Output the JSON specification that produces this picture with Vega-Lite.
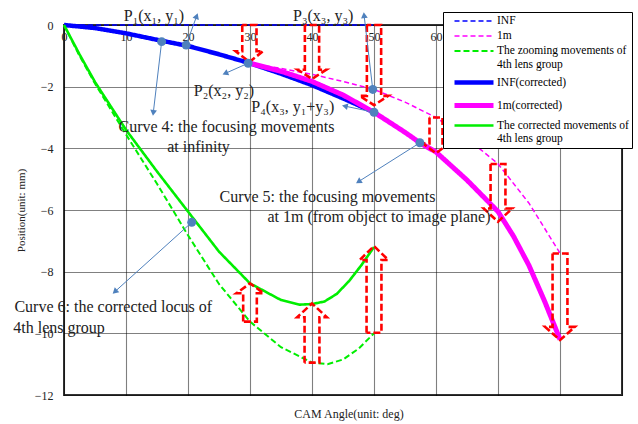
{
  "$schema": "https://vega.github.io/schema/vega-lite/v6.json",
  "width": 558,
  "height": 370,
  "autosize": {"type": "none"},
  "padding": {"left": 64, "top": 25, "right": 16, "bottom": 29},
  "background": "white",
  "config": {
    "view": {"stroke": "#333", "strokeWidth": 2},
    "font": "Liberation Serif",
    "axis": {"labelFont": "Liberation Serif", "titleFont": "Liberation Serif", "labelColor": "#222", "titleColor": "#222", "grid": true, "gridColor": "#000", "gridDash": [1, 1], "gridOpacity": 1, "gridWidth": 1.1, "domain": false, "ticks": false}
  },
  "title": {"text": "CAM Angle(unit: deg)", "orient": "bottom", "offset": 8, "fontSize": 12, "font": "Liberation Serif", "fontWeight": "normal", "color": "#222", "anchor": "middle", "dx": 6},
  "datasets": {
    "curves": [
      {"s": "INF", "x": 0, "y": 0}, {"s": "INF", "x": 50, "y": 0},
      {"s": "1m", "x": 30, "y": -1.24}, {"s": "1m", "x": 35, "y": -1.41}, {"s": "1m", "x": 40, "y": -1.6}, {"s": "1m", "x": 45, "y": -1.83}, {"s": "1m", "x": 50, "y": -2.09}, {"s": "1m", "x": 55, "y": -2.5}, {"s": "1m", "x": 60, "y": -3.0}, {"s": "1m", "x": 65, "y": -3.68}, {"s": "1m", "x": 70, "y": -4.5}, {"s": "1m", "x": 75, "y": -5.78}, {"s": "1m", "x": 80, "y": -7.4},
      {"s": "The zooming movements of 4th lens group", "x": 0, "y": 0}, {"s": "The zooming movements of 4th lens group", "x": 2.5, "y": -1.0}, {"s": "The zooming movements of 4th lens group", "x": 5, "y": -1.9}, {"s": "The zooming movements of 4th lens group", "x": 10, "y": -3.55}, {"s": "The zooming movements of 4th lens group", "x": 15, "y": -5.15}, {"s": "The zooming movements of 4th lens group", "x": 20, "y": -6.82}, {"s": "The zooming movements of 4th lens group", "x": 25, "y": -8.4}, {"s": "The zooming movements of 4th lens group", "x": 30, "y": -9.62}, {"s": "The zooming movements of 4th lens group", "x": 35, "y": -10.45}, {"s": "The zooming movements of 4th lens group", "x": 40, "y": -10.95}, {"s": "The zooming movements of 4th lens group", "x": 42.5, "y": -11.0}, {"s": "The zooming movements of 4th lens group", "x": 45, "y": -10.85}, {"s": "The zooming movements of 4th lens group", "x": 47.5, "y": -10.5}, {"s": "The zooming movements of 4th lens group", "x": 50, "y": -10.0},
      {"s": "INF(corrected)", "x": 0, "y": 0}, {"s": "INF(corrected)", "x": 5, "y": -0.1}, {"s": "INF(corrected)", "x": 10, "y": -0.27}, {"s": "INF(corrected)", "x": 15, "y": -0.48}, {"s": "INF(corrected)", "x": 20, "y": -0.68}, {"s": "INF(corrected)", "x": 25, "y": -0.95}, {"s": "INF(corrected)", "x": 30, "y": -1.24}, {"s": "INF(corrected)", "x": 35, "y": -1.58}, {"s": "INF(corrected)", "x": 40, "y": -1.95}, {"s": "INF(corrected)", "x": 45, "y": -2.38}, {"s": "INF(corrected)", "x": 50, "y": -2.83},
      {"s": "1m(corrected)", "x": 30, "y": -1.24}, {"s": "1m(corrected)", "x": 35, "y": -1.5}, {"s": "1m(corrected)", "x": 40, "y": -1.83}, {"s": "1m(corrected)", "x": 45, "y": -2.27}, {"s": "1m(corrected)", "x": 50, "y": -2.83}, {"s": "1m(corrected)", "x": 55, "y": -3.48}, {"s": "1m(corrected)", "x": 57.4, "y": -3.82}, {"s": "1m(corrected)", "x": 60, "y": -4.12}, {"s": "1m(corrected)", "x": 65, "y": -5.03}, {"s": "1m(corrected)", "x": 70, "y": -6.05}, {"s": "1m(corrected)", "x": 72.5, "y": -6.85}, {"s": "1m(corrected)", "x": 75, "y": -7.8}, {"s": "1m(corrected)", "x": 77.5, "y": -8.95}, {"s": "1m(corrected)", "x": 80, "y": -10.2},
      {"s": "The corrected movements of 4th lens group", "x": 0, "y": 0}, {"s": "The corrected movements of 4th lens group", "x": 2.5, "y": -0.95}, {"s": "The corrected movements of 4th lens group", "x": 5, "y": -1.85}, {"s": "The corrected movements of 4th lens group", "x": 10, "y": -3.4}, {"s": "The corrected movements of 4th lens group", "x": 15, "y": -4.75}, {"s": "The corrected movements of 4th lens group", "x": 20, "y": -6.05}, {"s": "The corrected movements of 4th lens group", "x": 25, "y": -7.35}, {"s": "The corrected movements of 4th lens group", "x": 30, "y": -8.38}, {"s": "The corrected movements of 4th lens group", "x": 35, "y": -8.92}, {"s": "The corrected movements of 4th lens group", "x": 38, "y": -9.07}, {"s": "The corrected movements of 4th lens group", "x": 40, "y": -9.05}, {"s": "The corrected movements of 4th lens group", "x": 42, "y": -8.97}, {"s": "The corrected movements of 4th lens group", "x": 44, "y": -8.72}, {"s": "The corrected movements of 4th lens group", "x": 46, "y": -8.3}, {"s": "The corrected movements of 4th lens group", "x": 48, "y": -7.78}, {"s": "The corrected movements of 4th lens group", "x": 50, "y": -7.2}
    ],
    "arrows": [
      {"a": "A30", "i": 0, "x": 28.75, "y": 0}, {"a": "A30", "i": 1, "x": 28.75, "y": -0.85}, {"a": "A30", "i": 2, "x": 27.7, "y": -0.85}, {"a": "A30", "i": 3, "x": 29.9, "y": -1.2}, {"a": "A30", "i": 4, "x": 32.1, "y": -0.85}, {"a": "A30", "i": 5, "x": 31.05, "y": -0.85}, {"a": "A30", "i": 6, "x": 31.05, "y": 0}, {"a": "A30", "i": 7, "x": 28.75, "y": 0},
      {"a": "A40", "i": 0, "x": 38.85, "y": 0}, {"a": "A40", "i": 1, "x": 38.85, "y": -1.45}, {"a": "A40", "i": 2, "x": 37.7, "y": -1.45}, {"a": "A40", "i": 3, "x": 40, "y": -1.75}, {"a": "A40", "i": 4, "x": 42.3, "y": -1.45}, {"a": "A40", "i": 5, "x": 41.15, "y": -1.45}, {"a": "A40", "i": 6, "x": 41.15, "y": 0}, {"a": "A40", "i": 7, "x": 38.85, "y": 0},
      {"a": "A50", "i": 0, "x": 48.85, "y": 0}, {"a": "A50", "i": 1, "x": 48.85, "y": -2.3}, {"a": "A50", "i": 2, "x": 47.7, "y": -2.3}, {"a": "A50", "i": 3, "x": 50, "y": -2.6}, {"a": "A50", "i": 4, "x": 52.3, "y": -2.3}, {"a": "A50", "i": 5, "x": 51.15, "y": -2.3}, {"a": "A50", "i": 6, "x": 51.15, "y": 0}, {"a": "A50", "i": 7, "x": 48.85, "y": 0},
      {"a": "A60", "i": 0, "x": 58.95, "y": -3.0}, {"a": "A60", "i": 1, "x": 58.95, "y": -3.84}, {"a": "A60", "i": 2, "x": 57.9, "y": -3.84}, {"a": "A60", "i": 3, "x": 60, "y": -4.16}, {"a": "A60", "i": 4, "x": 62.1, "y": -3.84}, {"a": "A60", "i": 5, "x": 61.05, "y": -3.84}, {"a": "A60", "i": 6, "x": 61.05, "y": -3.0}, {"a": "A60", "i": 7, "x": 58.95, "y": -3.0},
      {"a": "A70", "i": 0, "x": 68.8, "y": -4.51}, {"a": "A70", "i": 1, "x": 68.8, "y": -5.95}, {"a": "A70", "i": 2, "x": 67.7, "y": -5.95}, {"a": "A70", "i": 3, "x": 70, "y": -6.38}, {"a": "A70", "i": 4, "x": 72.3, "y": -5.95}, {"a": "A70", "i": 5, "x": 71.2, "y": -5.95}, {"a": "A70", "i": 6, "x": 71.2, "y": -4.51}, {"a": "A70", "i": 7, "x": 68.8, "y": -4.51},
      {"a": "A80", "i": 0, "x": 78.8, "y": -7.41}, {"a": "A80", "i": 1, "x": 78.8, "y": -9.79}, {"a": "A80", "i": 2, "x": 77.6, "y": -9.79}, {"a": "A80", "i": 3, "x": 80, "y": -10.22}, {"a": "A80", "i": 4, "x": 82.4, "y": -9.79}, {"a": "A80", "i": 5, "x": 81.2, "y": -9.79}, {"a": "A80", "i": 6, "x": 81.2, "y": -7.41}, {"a": "A80", "i": 7, "x": 78.8, "y": -7.41},
      {"a": "U30", "i": 0, "x": 28.9, "y": -9.62}, {"a": "U30", "i": 1, "x": 28.9, "y": -8.7}, {"a": "U30", "i": 2, "x": 27.8, "y": -8.7}, {"a": "U30", "i": 3, "x": 30, "y": -8.38}, {"a": "U30", "i": 4, "x": 32.2, "y": -8.7}, {"a": "U30", "i": 5, "x": 31.1, "y": -8.7}, {"a": "U30", "i": 6, "x": 31.1, "y": -9.62}, {"a": "U30", "i": 7, "x": 28.9, "y": -9.62},
      {"a": "U40", "i": 0, "x": 38.8, "y": -10.95}, {"a": "U40", "i": 1, "x": 38.8, "y": -9.48}, {"a": "U40", "i": 2, "x": 37.6, "y": -9.48}, {"a": "U40", "i": 3, "x": 40, "y": -9.03}, {"a": "U40", "i": 4, "x": 42.4, "y": -9.48}, {"a": "U40", "i": 5, "x": 41.2, "y": -9.48}, {"a": "U40", "i": 6, "x": 41.2, "y": -10.95}, {"a": "U40", "i": 7, "x": 38.8, "y": -10.95},
      {"a": "U50", "i": 0, "x": 48.8, "y": -9.98}, {"a": "U50", "i": 1, "x": 48.8, "y": -7.62}, {"a": "U50", "i": 2, "x": 47.7, "y": -7.62}, {"a": "U50", "i": 3, "x": 50, "y": -7.17}, {"a": "U50", "i": 4, "x": 52.3, "y": -7.62}, {"a": "U50", "i": 5, "x": 51.2, "y": -7.62}, {"a": "U50", "i": 6, "x": 51.2, "y": -9.98}, {"a": "U50", "i": 7, "x": 48.8, "y": -9.98}
    ],
    "pointers": [
      {"x": 15.75, "y": -0.54, "x2": 14.4, "y2": -2.85},
      {"x": 19.7, "y": -0.65, "x2": 21.4, "y2": 0.29},
      {"x": 29.7, "y": -1.24, "x2": 26.0, "y2": -1.57},
      {"x": 49.8, "y": -2.09, "x2": 48.4, "y2": 0.32},
      {"x": 50, "y": -2.83, "x2": 45.3, "y2": -2.63},
      {"x": 57.4, "y": -3.82, "x2": 47.5, "y2": -5.08},
      {"x": 20.6, "y": -6.4, "x2": 8.2, "y2": -8.65}
    ],
    "labels": [
      {"t": "P₁(x₁, y₁)", "x": 14.5, "y": 0.29},
      {"t": "P₃(x₃, y₃)", "x": 41.8, "y": 0.29},
      {"t": "P₂(x₂, y₂)", "x": 25.8, "y": -2.14},
      {"t": "P₄(x₃, y₁+y₃)", "x": 36.9, "y": -2.65},
      {"t": "Curve 4: the focusing movements", "x": 26.2, "y": -3.3},
      {"t": "at infinity", "x": 21.7, "y": -3.95},
      {"t": "Curve 5: the focusing movements", "x": 42.5, "y": -5.57},
      {"t": "at 1m (from object to image plane)", "x": 50.8, "y": -6.22},
      {"t": "Curve 6: the corrected locus of", "x": 7.95, "y": -9.16},
      {"t": "4th lens group", "x": -0.8, "y": -9.82}
    ]
  },
  "encoding": {
    "x": {"field": "x", "type": "quantitative", "scale": {"domain": [0, 90], "nice": false, "zero": false},
      "axis": {"orient": "top", "values": [0, 10, 20, 30, 40, 50, 60, 70, 80, 90], "title": null, "labelFontSize": 12, "labelBaseline": "top", "labelPadding": -6, "labelFlush": false, "labelOverlap": false, "labelExpr": "datum.value > 60 ? '' : datum.label"}},
    "y": {"field": "y", "type": "quantitative", "scale": {"domain": [-12, 0], "nice": false, "zero": false},
      "axis": {"values": [-12, -10, -8, -6, -4, -2, 0], "title": "Position(unit: mm)", "titleFontSize": 11, "titleFontWeight": "normal", "titlePadding": 8, "labelFontSize": 12, "labelPadding": 11}}
  },
  "layer": [
    {
      "data": {"name": "curves"},
      "mark": {"type": "line", "strokeCap": "butt"},
      "encoding": {
        "color": {"field": "s", "type": "nominal",
          "scale": {"domain": ["INF", "1m", "The zooming movements of 4th lens group", "INF(corrected)", "1m(corrected)", "The corrected movements of 4th lens group"], "range": ["#0000FF", "#FF00FF", "#00EE00", "#0000FF", "#FF00FF", "#00EE00"]},
          "legend": {"title": null, "orient": "none", "legendX": 379, "legendY": -13, "symbolType": "M0.2,0H8", "symbolSize": 100, "labelOffset": 36, "fillColor": "white", "strokeColor": "#000", "padding": 3, "rowPadding": 3, "labelFont": "Liberation Serif", "labelFontSize": 11.5, "labelColor": "#000", "labelLimit": 220, "zindex": 5,
            "labelExpr": "datum.label == 'The zooming movements of 4th lens group' ? ['The zooming movements of', '4th lens group'] : datum.label == 'The corrected movements of 4th lens group' ? ['The corrected movements of', '4th lens group'] : datum.label"}},
        "strokeDash": {"field": "s", "type": "nominal",
          "scale": {"domain": ["INF", "1m", "The zooming movements of 4th lens group", "INF(corrected)", "1m(corrected)", "The corrected movements of 4th lens group"], "range": [[5, 3], [5, 3], [6, 3], [1, 0], [1, 0], [1, 0]]},
          "legend": {"title": null}},
        "strokeWidth": {"field": "s", "type": "ordinal",
          "scale": {"type": "ordinal", "domain": ["INF", "1m", "The zooming movements of 4th lens group", "INF(corrected)", "1m(corrected)", "The corrected movements of 4th lens group"], "range": [1.5, 1.5, 2, 4.5, 5, 2.6]},
          "legend": {"title": null}}
      }
    },
    {
      "data": {"name": "arrows"},
      "mark": {"type": "line", "color": "#FF0000", "strokeWidth": 2.6, "strokeDash": [7, 3], "strokeJoin": "miter"},
      "encoding": {
        "detail": {"field": "a", "type": "nominal"},
        "order": {"field": "i", "type": "quantitative"}
      }
    },
    {
      "data": {"name": "pointers"},
      "mark": {"type": "rule", "color": "#4F81BD", "strokeWidth": 1},
      "encoding": {
        "x2": {"field": "x2"},
        "y2": {"field": "y2"}
      }
    },
    {
      "data": {"name": "pointers"},
      "transform": [{"calculate": "atan2((datum.x2 - datum.x) * 6.2, (datum.y2 - datum.y) * 30.83) * 180 / PI", "as": "ang"}],
      "mark": {"type": "point", "shape": "triangle-up", "filled": true, "color": "#4F81BD", "size": 45, "opacity": 1},
      "encoding": {
        "x": {"field": "x2", "type": "quantitative"},
        "y": {"field": "y2", "type": "quantitative"},
        "angle": {"field": "ang", "type": "quantitative", "scale": null}
      }
    },
    {
      "data": {"name": "pointers"},
      "mark": {"type": "point", "shape": "circle", "filled": true, "color": "#4F81BD", "size": 80, "opacity": 1},
      "encoding": {}
    },
    {
      "data": {"name": "labels"},
      "mark": {"type": "text", "font": "Liberation Serif", "fontSize": 16, "color": "#222", "align": "center", "baseline": "middle"},
      "encoding": {"text": {"field": "t", "type": "nominal"}}
    }
  ]
}
